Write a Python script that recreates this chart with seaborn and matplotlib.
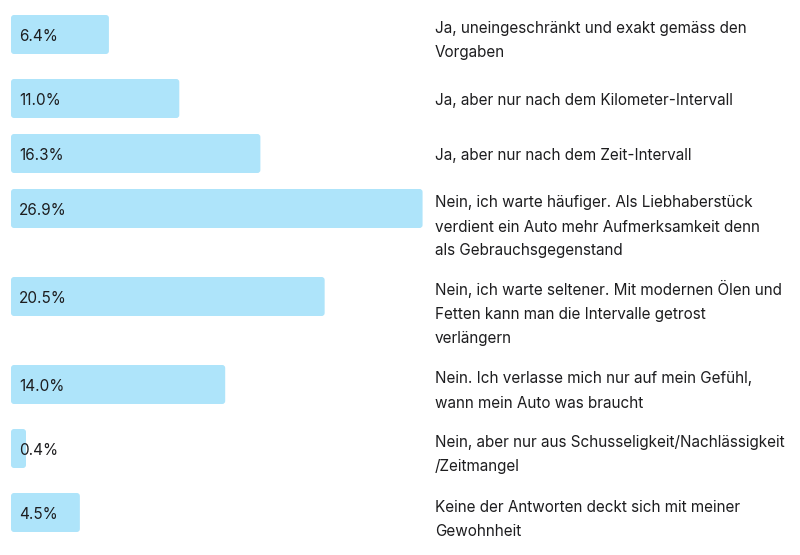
import matplotlib
matplotlib.use("Agg")
import matplotlib.pyplot as plt
from matplotlib.patches import FancyBboxPatch
import seaborn as sns
import numpy as np
import pandas as pd

# ---- data ----
answers = [
    "Ja, uneingeschränkt und exakt gemäss den\nVorgaben",
    "Ja, aber nur nach dem Kilometer-Intervall",
    "Ja, aber nur nach dem Zeit-Intervall",
    "Nein, ich warte häufiger. Als Liebhaberstück\nverdient ein Auto mehr Aufmerksamkeit denn\nals Gebrauchsgegenstand",
    "Nein, ich warte seltener. Mit modernen Ölen und\nFetten kann man die Intervalle getrost\nverlängern",
    "Nein. Ich verlasse mich nur auf mein Gefühl,\nwann mein Auto was braucht",
    "Nein, aber nur aus Schusseligkeit/Nachlässigkeit\n/Zeitmangel",
    "Keine der Antworten deckt sich mit meiner\nGewohnheit",
]
shares = [6.4, 11.0, 16.3, 26.9, 20.5, 14.0, 0.4, 4.5]
share_labels = ["6.4%", "11.0%", "16.3%", "26.9%", "20.5%", "14.0%", "0.4%", "4.5%"]

# ---- layout / style constants (pixels) ----
W, H, DPI = 800, 555, 100
PX_PER_PCT = 15.3
BAR_LEFT = 11
BAR_H = 39
LINE_H = 24
ROW_GAP = 16
TOP = 15
TEXT_X = 435
LABEL_PAD = 8
BASELINE_DY = 6.5
MIN_BAR_PX = 15
RADIUS = 3
BAR_COLOR = "#AEE4FA"
TEXT_COLOR = "#1d1d1f"
FONT = ["Inter", "DejaVu Sans"]
FS = 11

sns.set_theme(style="white")
plt.rcParams["font.family"] = FONT

# row geometry derived from the number of text lines per answer
n_lines = [a.count("\n") + 1 for a in answers]
row_h = [max(n * LINE_H, BAR_H) for n in n_lines]
tops = TOP + np.concatenate([[0], np.cumsum(np.array(row_h[:-1]) + ROW_GAP)])
centers = tops + BAR_H / 2

df = pd.DataFrame({"answer": answers, "share": shares, "pos": centers})

fig = plt.figure(figsize=(W / DPI, H / DPI), dpi=DPI)
ax = fig.add_axes([0, 0, 1, 1])
width = BAR_H / np.diff(np.sort(centers)).min()
sns.barplot(data=df, x="share", y="pos", orient="h", native_scale=True,
            width=width, color=BAR_COLOR, saturation=1, ax=ax, linewidth=0)

ax.set_xlim(-BAR_LEFT / PX_PER_PCT, (W - BAR_LEFT) / PX_PER_PCT)
ax.set_ylim(H, 0)
ax.set_axis_off()

# round the bar corners
rects = list(ax.patches)
for p in rects:
    x0, y0, w, h = p.get_x(), p.get_y(), p.get_width(), p.get_height()
    yc = y0 + h / 2
    w = max(w, MIN_BAR_PX / PX_PER_PCT)
    fb = FancyBboxPatch((x0, yc - BAR_H / 2), w, BAR_H,
                        boxstyle=f"round,pad=0,rounding_size={RADIUS / PX_PER_PCT}",
                        mutation_aspect=PX_PER_PCT,
                        facecolor=BAR_COLOR, edgecolor="none", zorder=2)
    ax.add_patch(fb)
    p.remove()

# labels
for lab, ans, top, n, rh in zip(share_labels, answers, tops, n_lines, row_h):
    ax.text(LABEL_PAD / PX_PER_PCT, top + BAR_H / 2 + BASELINE_DY, lab,
            ha="left", va="baseline", fontsize=FS, color=TEXT_COLOR, zorder=3)
    first = top + rh / 2 - (n - 1) * LINE_H / 2 + BASELINE_DY
    for i, line in enumerate(ans.split("\n")):
        ax.text(TEXT_X / W, first + i * LINE_H, line,
                transform=ax.get_yaxis_transform(), ha="left", va="baseline",
                fontsize=FS, color=TEXT_COLOR, zorder=3)

fig.savefig("out.png", dpi=DPI, facecolor="white")
